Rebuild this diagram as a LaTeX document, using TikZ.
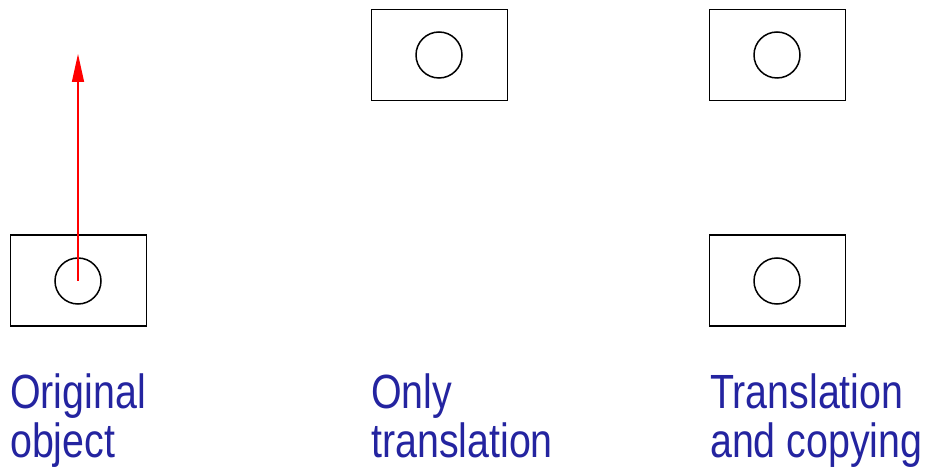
\documentclass[tikz,border=0pt]{standalone}
\usepackage{fontspec}
\setmainfont[FakeStretch=0.82]{Liberation Sans}
\usetikzlibrary{arrows.meta}
\definecolor{lblue}{RGB}{36,36,160}
\begin{document}
\begin{tikzpicture}[x=1pt,y=-1pt,
  obj/.style={draw=black,line width=1.5pt,minimum width=136pt,minimum height=91pt,inner sep=0pt},
  hole/.style={draw=black,line width=1.5pt,circle,minimum size=46pt,inner sep=0pt},
  lbl/.style={anchor=base west,inner sep=0pt,text=lblue,font=\fontsize{48}{48}\selectfont}]
\useasboundingbox (0,0) rectangle (926,470);
% original
\node[obj] (r1) at (78.5,280.5) {};
\node[hole] (c1) at (78,281) {};
\coordinate (c1c) at (78,281);
\coordinate (tip) at (78,54);
\draw[red,line width=1.5pt,-{Triangle[length=28pt,width=12pt]}] (c1c) -- (tip);
% only translation
\node[obj] (r2) at (439.5,55) {};
\node[hole] (c2) at (439,55) {};
% translation and copying
\node[obj] (r3) at (777.5,55) {};
\node[hole] (c3) at (777,55) {};
\node[obj] (r4) at (777.5,280.5) {};
\node[hole] (c4) at (777,281) {};
% labels
\node[lbl] (t1a) at (10,408) {Original};
\node[lbl] (t1b) at (10,457) {object};
\node[lbl] (t2a) at (371,408) {Only};
\node[lbl] (t2b) at (371,457) {translation};
\node[lbl] (t3a) at (710,408) {Translation};
\node[lbl] (t3b) at (710,457) {and copying};
\end{tikzpicture}
\end{document}
